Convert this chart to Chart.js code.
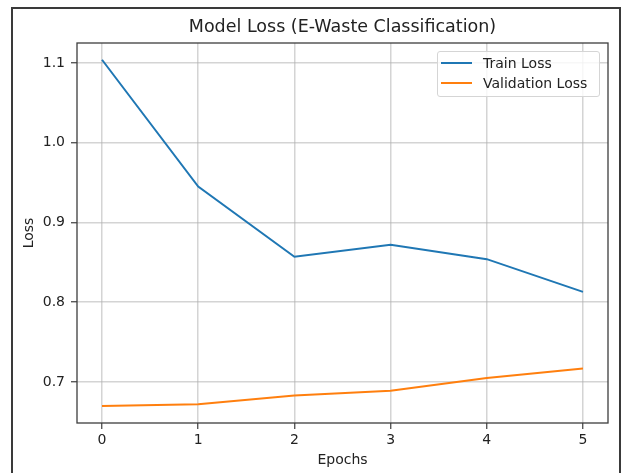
<!DOCTYPE html>
<html>
<head>
<meta charset="utf-8">
<script src="https://cdn.jsdelivr.net/npm/chart.js@4.4.1/dist/chart.umd.min.js"></script>
<style>
    html, body { margin: 0; padding: 0; background: #fff; }
    #wrap { position: relative; width: 622px; height: 473px; overflow: hidden; }
    #frame { position: absolute; left: 11px; top: 7px; width: 606px; height: 480px; border: 2px solid #3a3a3a; border-bottom: none; }
    #lossChart { position: absolute; left: 0; top: 0; }
    #legend { position: absolute; left: 437px; top: 51px; width: 161px; height: 44px; border: 1px solid #d5d5d5; border-radius: 3px; background: rgba(255,255,255,0.8); font: 14px 'DejaVu Sans', sans-serif; color: #222; }
    #legend .item { position: absolute; left: 0; height: 20px; line-height: 20px; width: 100%; }
    #legend .swatch { position: absolute; left: 3px; top: 9px; width: 31px; height: 2px; }
    #legend .text { position: absolute; left: 45px; white-space: nowrap; }
</style>
</head>
<body>
<div id="wrap">
    <div id="frame"></div>
    <canvas id="lossChart" width="622" height="473"></canvas>
    <div id="legend"></div>
</div>
<script>
var epochs = [0, 1, 2, 3, 4, 5];
var trainLoss = [1.104, 0.945, 0.857, 0.872, 0.854, 0.813];
var valLoss = [0.670, 0.672, 0.683, 0.689, 0.705, 0.717];
var xTicks = [0, 1, 2, 3, 4, 5];
var yTicks = [0.7, 0.8, 0.9, 1.0, 1.1];

var FONT = "'DejaVu Sans', sans-serif";

function toPoints(values) {
    return epochs.map(function (e, i) { return { x: e, y: values[i] }; });
}

// matplotlib style spines on all four sides
var spinesPlugin = {
    id: 'spines',
    afterDatasetsDraw: function (chart) {
        var a = chart.chartArea;
        var ctx = chart.ctx;
        ctx.save();
        ctx.strokeStyle = '#3d3d3d';
        ctx.lineWidth = 1.3;
        ctx.strokeRect(a.left, a.top, a.right - a.left, a.bottom - a.top);
        ctx.restore();
    }
};

var chart = new Chart(document.getElementById('lossChart'), {
    type: 'line',
    data: {
        datasets: [
            { label: 'Train Loss', data: toPoints(trainLoss), borderColor: '#1f77b4', borderWidth: 2, pointRadius: 0, tension: 0, fill: false },
            { label: 'Validation Loss', data: toPoints(valLoss), borderColor: '#ff7f0e', borderWidth: 2, pointRadius: 0, tension: 0, fill: false }
        ]
    },
    options: {
        responsive: false,
        animation: false,
        layout: { padding: { left: 0, right: 14, top: 0, bottom: 0 } },
        plugins: {
            legend: { display: false },
            tooltip: { enabled: false },
            title: {
                display: true,
                fullSize: false,
                text: 'Model Loss (E-Waste Classification)',
                color: '#222',
                font: { family: FONT, size: 17.5, weight: 'normal' },
                padding: { top: 16.5, bottom: 5.5 }
            }
        },
        scales: {
            x: {
                type: 'linear',
                min: -0.26,
                max: 5.26,
                afterBuildTicks: function (scale) {
                    scale.ticks = xTicks.map(function (v) { return { value: v }; });
                },
                afterFit: function (scale) {
                    scale.height = 50;
                    scale.paddingLeft = 0;
                    scale.paddingRight = 0;
                },
                ticks: {
                    color: '#222',
                    padding: 3,
                    maxRotation: 0,
                    font: { family: FONT, size: 14 },
                    callback: function (v) { return String(v); }
                },
                grid: { color: 'rgba(176,176,176,0.55)', lineWidth: 1.5, tickColor: '#3d3d3d', tickWidth: 1.2, tickLength: 6 },
                border: { display: false },
                title: { display: true, text: 'Epochs', color: '#222', font: { family: FONT, size: 14 }, padding: { top: 0, bottom: 4.6 } }
            },
            y: {
                min: 0.6486,
                max: 1.125,
                afterBuildTicks: function (scale) {
                    scale.ticks = yTicks.map(function (v) { return { value: v }; });
                },
                afterFit: function (scale) {
                    scale.width = 77;
                    scale.paddingTop = 0;
                    scale.paddingBottom = 0;
                },
                ticks: {
                    color: '#222',
                    padding: 6,
                    font: { family: FONT, size: 14 },
                    callback: function (v) { return Number(v).toFixed(1); }
                },
                grid: { color: 'rgba(176,176,176,0.55)', lineWidth: 1.5, tickColor: '#3d3d3d', tickWidth: 1.2, tickLength: 6 },
                border: { display: false },
                title: { display: true, text: 'Loss', color: '#222', font: { family: FONT, size: 14 }, padding: { top: 20.6, bottom: 0 } }
            }
        }
    },
    plugins: [spinesPlugin]
});

// html legend built from the datasets
var legendEl = document.getElementById('legend');
chart.data.datasets.forEach(function (ds, i) {
    var item = document.createElement('div');
    item.className = 'item';
    item.style.top = (1 + i * 20) + 'px';
    item.innerHTML = '<span class="swatch" style="background:' + ds.borderColor + '"></span>' +
        '<span class="text">' + ds.label + '</span>';
    legendEl.appendChild(item);
});
</script>
</body>
</html>
